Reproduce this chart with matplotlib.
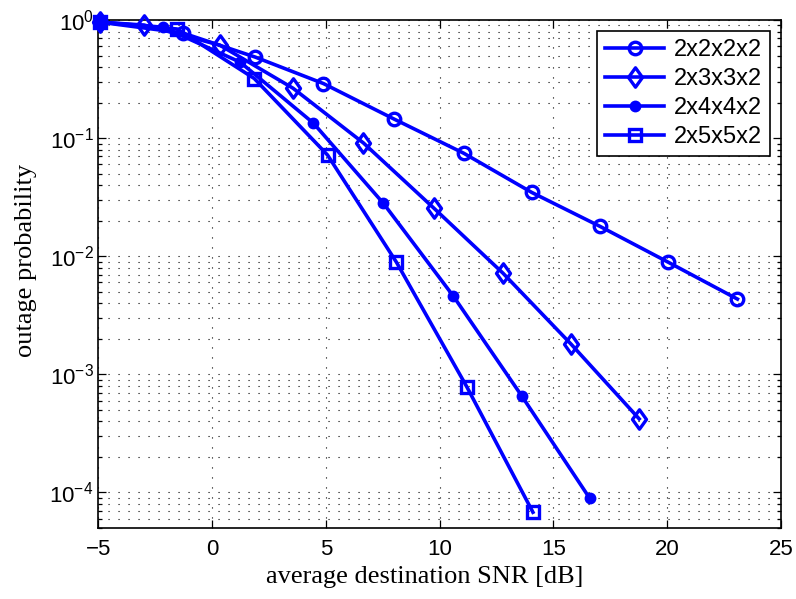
import numpy as np
import matplotlib
matplotlib.use('Agg')
import matplotlib.pyplot as plt
from matplotlib.path import Path
from matplotlib.ticker import LogLocator, NullFormatter, FixedLocator

# 数据
snr_222 = [-4.93, -1.28, 1.89, 4.89, 8.0, 11.06, 14.05, 17.05, 20.05, 23.09]
p_222 = [0.96, 0.776, 0.486, 0.29, 0.145, 0.0745, 0.0347, 0.0179, 0.0089, 0.00434]

snr_232 = [-4.93, -2.99, 0.33, 3.55, 6.65, 9.74, 12.78, 15.78, 18.77]
p_232 = [0.96, 0.907, 0.614, 0.265, 0.091, 0.0256, 0.0072, 0.0018, 0.00042]

snr_242 = [-4.93, -2.16, 1.23, 4.45, 7.53, 10.6, 13.6, 16.6]
p_242 = [0.96, 0.87, 0.44, 0.134, 0.028, 0.0046, 0.00066, 0.000089]

snr_252 = [-4.93, -1.54, 1.85, 5.07, 8.1, 11.2, 14.1]
p_252 = [0.96, 0.84, 0.32, 0.072, 0.0089, 0.00078, 0.000068]

labels = ['2x2x2x2', '2x3x3x2', '2x4x4x2', '2x5x5x2']
xticks = [-5, 0, 5, 10, 15, 20, 25]

# MATLAB 风格的菱形标记（略高于宽）
diamond = Path([(0, 1), (0.72, 0), (0, -1), (-0.72, 0), (0, 1)],
               [Path.MOVETO, Path.LINETO, Path.LINETO, Path.LINETO, Path.CLOSEPOLY])

fig = plt.figure(figsize=(7.96, 5.99), dpi=100)
ax = fig.add_axes([0.1237, 0.1185, 0.8573, 0.848])

blue = '#0000ff'
lw = 2.6
kw = dict(color=blue, lw=lw, clip_on=False, zorder=3)
ax.semilogy(snr_222, p_222, marker='o', ms=9, mfc='none', mew=2.4, label=labels[0], **kw)
ax.semilogy(snr_232, p_232, marker=diamond, ms=14, mfc='none', mew=2.4, label=labels[1], **kw)
ax.semilogy(snr_242, p_242, marker='o', ms=6.5, mfc=blue, mew=2.0, label=labels[2], **kw)
ax.semilogy(snr_252, p_252, marker='s', ms=8.5, mfc='none', mew=2.4, label=labels[3], **kw)

ax.set_xlim(-5, 25)
ax.set_ylim(5e-5, 1)
ax.xaxis.set_major_locator(FixedLocator(xticks))
ax.yaxis.set_major_locator(LogLocator(base=10, numticks=10))
ax.yaxis.set_minor_locator(LogLocator(base=10, subs=np.arange(2, 10), numticks=20))
ax.yaxis.set_minor_formatter(NullFormatter())

dots = (0, (1, 8))
ax.grid(True, which='major', linestyle=dots, color='black', lw=0.8)
ax.grid(True, which='minor', axis='y', linestyle=dots, color='black', lw=0.8)

ax.tick_params(which='both', direction='in', top=True, right=True, labelsize=16)
ax.tick_params(which='major', length=6, width=0.9)
ax.tick_params(which='minor', length=3, width=0.9)
ax.tick_params(axis='x', pad=8)
for lab in ax.get_xticklabels() + ax.get_yticklabels():
    lab.set_fontfamily(['Liberation Sans', 'DejaVu Sans'])
for s in ax.spines.values():
    s.set_linewidth(1.2)

ax.set_xlabel('average destination SNR [dB]', fontsize=19, family='Liberation Serif')
ax.set_ylabel('outage probability', fontsize=19, family='Liberation Serif')
ax.xaxis.set_label_coords(0.478, -0.075)
ax.yaxis.set_label_coords(-0.09, 0.526)

leg = ax.legend(loc='upper right', prop={'family': 'Liberation Sans', 'size': 17},
                frameon=True, fancybox=False, edgecolor='black', framealpha=1,
                handlelength=2.5, handletextpad=0.4, borderaxespad=0.45,
                labelspacing=0.3, borderpad=0.35)
leg.get_frame().set_linewidth(1.2)

fig.savefig('out.png', dpi=100)
